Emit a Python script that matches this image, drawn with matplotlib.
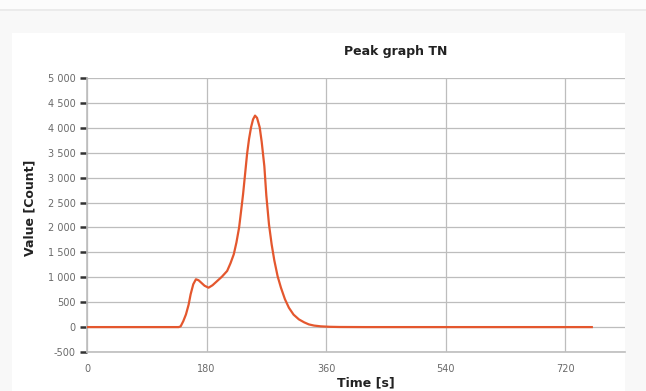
import matplotlib
matplotlib.use('Agg')
import matplotlib.pyplot as plt
from matplotlib.patches import Rectangle
from matplotlib.ticker import FuncFormatter

# --- data ------------------------------------------------------------------
time_s = [0, 60, 120, 138, 141, 145, 149, 153, 156, 160, 164, 168, 172, 177,
          183, 189, 196, 203, 211, 216, 221, 225, 229, 232, 235, 238, 241, 244,
          247, 250, 253, 256, 260, 263, 267, 270, 274, 278, 282, 287, 292, 298,
          304, 311, 319, 327, 334, 342, 352, 365, 380, 420, 500, 600, 700, 760]
value = [0, 0, 0, 0, 15, 120, 255, 450, 657, 860, 960, 940, 891, 830,
         791, 840, 925, 1010, 1127, 1280, 1462, 1700, 1998, 2330, 2670, 3070, 3475, 3780,
         4010, 4170, 4245, 4200, 4010, 3720, 3230, 2640, 2060, 1660, 1340, 1020, 791, 560,
         388, 250, 155, 95, 54, 30, 15, 6, 2, 0, 0, 0, 0, 0]

x_ticks = [0, 180, 360, 540, 720]
y_ticks = [-500, 0, 500, 1000, 1500, 2000, 2500, 3000, 3500, 4000, 4500, 5000]

LINE_COLOR = '#e4572e'
GRID_COLOR = '#bdbdbd'
LABEL_GREY = '#6a6a6a'


def thousands(v, _pos):
    # reference uses a space as thousands separator
    return f"{int(v):,}".replace(",", " ")


fig = plt.figure(figsize=(6.46, 3.91), dpi=100)
fig.patch.set_facecolor('#f8f8f8')

# page-like background: thin band at top, white panel behind the chart
bg = [
    Rectangle((0, 1 - 9 / 391), 1, 9 / 391, facecolor='#fcfcfc'),
    Rectangle((0, 1 - 11 / 391), 1, 2 / 391, facecolor='#ebebeb'),
    Rectangle((12 / 646, 0), (625 - 12) / 646, (391 - 33) / 391, facecolor='white'),
]
for p in bg:
    p.set_transform(fig.transFigure)
    p.set_edgecolor('none')
    p.set_zorder(-10)
    fig.patches.append(p)

ax = fig.add_axes([87 / 646, 1 - 352 / 391, (625 - 87) / 646, (352 - 78) / 391])
ax.set_facecolor('white')

ax.plot(time_s, value, color=LINE_COLOR, linewidth=1.6, solid_joinstyle='round', zorder=3)

ax.set_xlim(0, 810)
ax.set_ylim(-500, 5000)
ax.set_xticks(x_ticks)
ax.set_yticks(y_ticks)
ax.yaxis.set_major_formatter(FuncFormatter(thousands))

ax.grid(True, color=GRID_COLOR, linewidth=0.9)
ax.set_axisbelow(True)
for name, side in ax.spines.items():
    side.set_visible(name in ('bottom', 'left'))
    side.set_color(GRID_COLOR)
    side.set_linewidth(1.2)

ax.tick_params(axis='y', direction='out', length=5, width=1.8, color='#333333',
               labelsize=7, labelcolor=LABEL_GREY, pad=3)
ax.tick_params(axis='x', length=0, labelsize=7, labelcolor=LABEL_GREY, pad=9)

fig.text(396 / 646, 1 - 52 / 391, 'Peak graph TN', ha='center', va='center',
         fontsize=9, fontweight='bold', color='#222222')
fig.text(366 / 646, 1 - 383 / 391, 'Time [s]', ha='center', va='center',
         fontsize=9, fontweight='bold', color='#222222')
fig.text(30 / 646, 1 - 208 / 391, 'Value [Count]', ha='center', va='center',
         rotation=90, fontsize=9, fontweight='bold', color='#222222')

plt.savefig('out.png', dpi=100)
plt.close()
